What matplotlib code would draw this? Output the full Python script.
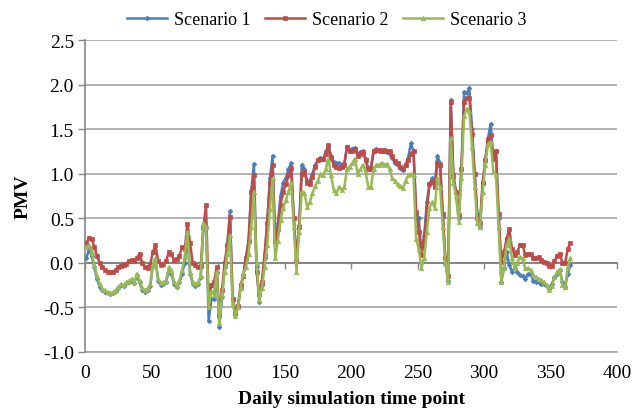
import numpy as np
import matplotlib
matplotlib.use("Agg")
import matplotlib.pyplot as plt

# x positions: daily simulation time points (every second day shown)
days = np.arange(1, 366, 2)

scenario1 = [
    0.05, 0.15, 0.08, -0.05, -0.18, -0.27, -0.31, -0.33, -0.34, -0.35,
    -0.34, -0.32, -0.28, -0.25, -0.26, -0.23, -0.21, -0.19, -0.23, -0.14,
    -0.22, -0.30, -0.33, -0.31, -0.26, -0.04, 0.03, -0.20, -0.25, -0.24,
    -0.22, -0.08, -0.12, -0.24, -0.27, -0.22, -0.12, 0.00, 0.30, -0.12,
    -0.24, -0.26, -0.24, -0.16, 0.38, 0.40, -0.65, -0.40, -0.40, -0.10,
    -0.72, -0.38, -0.05, 0.20, 0.58, -0.42, -0.58, -0.50, -0.28, -0.14,
    0.05, 0.25, 0.80, 1.11, -0.05, -0.44, -0.25, 0.05, 0.45, 0.95,
    1.20, 0.22, 0.45, 0.75, 0.90, 0.95, 1.05, 1.12, 0.50, 0.02,
    0.42, 1.10, 1.05, 0.92, 0.92, 1.00, 1.10, 1.15, 1.18, 1.16,
    1.25, 1.30, 1.20, 1.13, 1.12, 1.12, 1.10, 1.12, 1.30, 1.27,
    1.28, 1.29, 1.22, 1.24, 1.25, 1.16, 1.06, 1.08, 1.26, 1.28,
    1.26, 1.25, 1.25, 1.24, 1.22, 1.18, 1.12, 1.10, 1.06, 1.04,
    1.10, 1.18, 1.34, 1.25, 0.55, 0.50, 0.10, 0.30, 0.68, 0.88,
    0.95, 0.88, 1.20, 1.12, 0.52, 0.00, -0.20, 1.83, 0.95, 0.78,
    0.50, 1.05, 1.92, 1.90, 1.96, 1.50, 1.00, 0.55, 0.40, 0.90,
    1.15, 1.40, 1.56, 1.17, 1.25, 0.50, -0.21, -0.06, 0.12, -0.02,
    -0.10, -0.06, -0.10, -0.14, -0.15, -0.18, -0.13, -0.12, -0.20, -0.21,
    -0.22, -0.24, -0.24, -0.26, -0.29, -0.24, -0.16, -0.12, -0.08, -0.22,
    -0.27, -0.12, -0.02,
]

scenario2 = [
    0.22, 0.28, 0.27, 0.18, 0.08, 0.00, -0.05, -0.08, -0.10, -0.10,
    -0.10, -0.08, -0.05, -0.03, -0.02, -0.01, 0.02, 0.03, 0.02, 0.06,
    0.10, 0.00, -0.05, -0.06, -0.02, 0.12, 0.20, 0.02, -0.02, -0.01,
    0.02, 0.12, 0.10, 0.03, 0.04, 0.08, 0.18, 0.15, 0.44, 0.22,
    0.00, -0.02, -0.05, -0.04, 0.40, 0.65, -0.45, -0.25, -0.22, -0.05,
    -0.58, -0.30, 0.00, 0.20, 0.52, -0.40, -0.55, -0.48, -0.25, -0.15,
    0.05, 0.25, 0.80, 0.98, -0.10, -0.35, -0.21, 0.09, 0.45, 0.90,
    1.10, 0.25, 0.38, 0.65, 0.80, 0.88, 0.98, 1.06, 0.50, 0.03,
    0.40, 1.00, 1.02, 0.90, 0.88, 0.96, 1.08, 1.15, 1.17, 1.16,
    1.22, 1.32, 1.18, 1.10, 1.08, 1.06, 1.07, 1.10, 1.30, 1.25,
    1.26, 1.28, 1.20, 1.22, 1.24, 1.15, 1.05, 1.05, 1.25, 1.27,
    1.27, 1.26, 1.27, 1.26, 1.25, 1.20, 1.14, 1.12, 1.08, 1.05,
    1.10, 1.15, 1.22, 1.26, 0.57, 0.35, 0.09, 0.25, 0.60, 0.88,
    0.91, 0.85, 1.12, 1.10, 0.55, 0.05, -0.15, 1.80, 0.98, 0.80,
    0.54, 1.05, 1.80, 1.85, 1.85, 1.45, 1.00, 0.50, 0.45, 0.90,
    1.15, 1.38, 1.43, 1.17, 1.25, 0.55, 0.01, 0.12, 0.27, 0.38,
    0.16, 0.09, 0.12, 0.20, 0.20, 0.09, 0.10, 0.10, 0.06, 0.05,
    0.07, 0.03, 0.01, 0.00, -0.04, -0.03, 0.02, 0.08, 0.10, 0.00,
    0.00, 0.16, 0.22,
]

scenario3 = [
    0.18, 0.20, 0.12, -0.02, -0.15, -0.24, -0.29, -0.31, -0.33, -0.34,
    -0.33, -0.31, -0.27, -0.24, -0.25, -0.22, -0.20, -0.18, -0.22, -0.12,
    -0.20, -0.28, -0.31, -0.29, -0.24, -0.02, 0.05, -0.18, -0.23, -0.22,
    -0.20, -0.05, -0.08, -0.22, -0.26, -0.20, -0.08, 0.07, 0.35, -0.10,
    -0.22, -0.24, -0.22, -0.15, 0.45, 0.40, -0.50, -0.32, -0.36, -0.10,
    -0.68, -0.36, -0.10, 0.10, 0.31, -0.45, -0.60, -0.50, -0.28, -0.12,
    -0.05, 0.10, 0.40, 0.80, 0.00, -0.42, -0.28, -0.05, 0.20, 0.60,
    0.95, 0.05, 0.25, 0.48, 0.62, 0.70, 0.80, 0.90, 0.40, -0.10,
    0.35, 0.80, 0.78, 0.63, 0.68, 0.78, 0.86, 0.92, 1.00, 0.98,
    1.05, 1.17, 0.98, 0.82, 0.78, 0.85, 0.82, 0.85, 1.05, 1.08,
    1.12, 1.17, 1.00, 1.05, 1.10, 1.02, 0.85, 0.85, 1.05, 1.10,
    1.10, 1.12, 1.10, 1.11, 1.05, 0.95, 0.92, 0.88, 0.86, 0.84,
    0.92, 0.98, 1.00, 0.98, 0.27, 0.15, -0.06, 0.05, 0.35, 0.62,
    0.68, 0.62, 0.95, 0.85, 0.40, 0.00, -0.22, 1.40, 0.90, 0.75,
    0.46, 0.95, 1.65, 1.73, 1.70, 1.30, 0.85, 0.45, 0.40, 0.80,
    1.10, 1.33, 1.36, 1.02, 0.98, 0.40, -0.21, -0.06, 0.20, 0.27,
    0.05, -0.06, 0.00, 0.07, 0.05, -0.06, -0.06, -0.08, -0.14, -0.16,
    -0.18, -0.19, -0.22, -0.25, -0.30, -0.26, -0.16, -0.10, -0.07, -0.25,
    -0.27, -0.05, 0.05,
]

series_names = ["Scenario 1", "Scenario 2", "Scenario 3"]
x_ticks = [0, 50, 100, 150, 200, 250, 300, 350, 400]
y_ticks = [-1.0, -0.5, 0.0, 0.5, 1.0, 1.5, 2.0, 2.5]

colors = ["#4A7EBB", "#BE4B48", "#98B954"]
markers = ["D", "s", "^"]
msizes = [2.4, 3.0, 3.2]

plt.rcParams['font.family'] = ['Liberation Serif', 'DejaVu Serif']

fig = plt.figure(figsize=(6.36, 4.14), dpi=100)
ax = fig.add_axes([85/636, 1 - 353/414, (617-85)/636, (353-41)/414])

ax.set_xlim(0, 400)
ax.set_ylim(-1.0, 2.5)

for yv in y_ticks:
    if yv != 0.0:
        ax.axhline(yv, color="#A6A6A6", lw=1.2, zorder=0)

for vals, name, c, m, ms in zip([scenario1, scenario2, scenario3], series_names, colors, markers, msizes):
    ax.plot(days, vals, color=c, lw=1.8, marker=m, markersize=ms,
            markeredgewidth=0.5, label=name, zorder=3)

# axis lines
for s in ["top", "right"]:
    ax.spines[s].set_visible(False)
ax.spines["left"].set_color("#868686")
ax.spines["left"].set_linewidth(1.2)
ax.spines["bottom"].set_position(("data", 0))
ax.spines["bottom"].set_color("#868686")
ax.spines["bottom"].set_linewidth(1.5)
ax.spines["bottom"].set_zorder(1)

ax.set_yticks(y_ticks)
ax.set_yticklabels([f"{v:.1f}" for v in y_ticks])
ax.tick_params(axis="y", length=5, width=1.0, color="#868686", labelsize=14, pad=3)

ax.set_xticks(x_ticks)
ax.tick_params(axis="x", length=4, width=1.0, color="#868686", labelbottom=False)

sec = ax.secondary_xaxis(0)
sec.set_xticks(x_ticks)
sec.set_xticklabels([str(v) for v in x_ticks])
sec.tick_params(axis="x", length=0, labelsize=14, pad=9)
sec.spines["bottom"].set_color("#A6A6A6")
sec.spines["bottom"].set_linewidth(1.2)
sec.set_xlabel("Daily simulation time point", fontsize=14, fontweight="bold", labelpad=6)

ax.set_ylabel("PMV", fontsize=14, fontweight="bold", labelpad=8)

leg = ax.legend(loc="lower center", bbox_to_anchor=(0.455, 1.0), ncol=3, frameon=False,
                fontsize=13, handlelength=2.2, handletextpad=0.4, columnspacing=0.8,
                borderaxespad=0.25)

fig.savefig("out.png", dpi=100)
